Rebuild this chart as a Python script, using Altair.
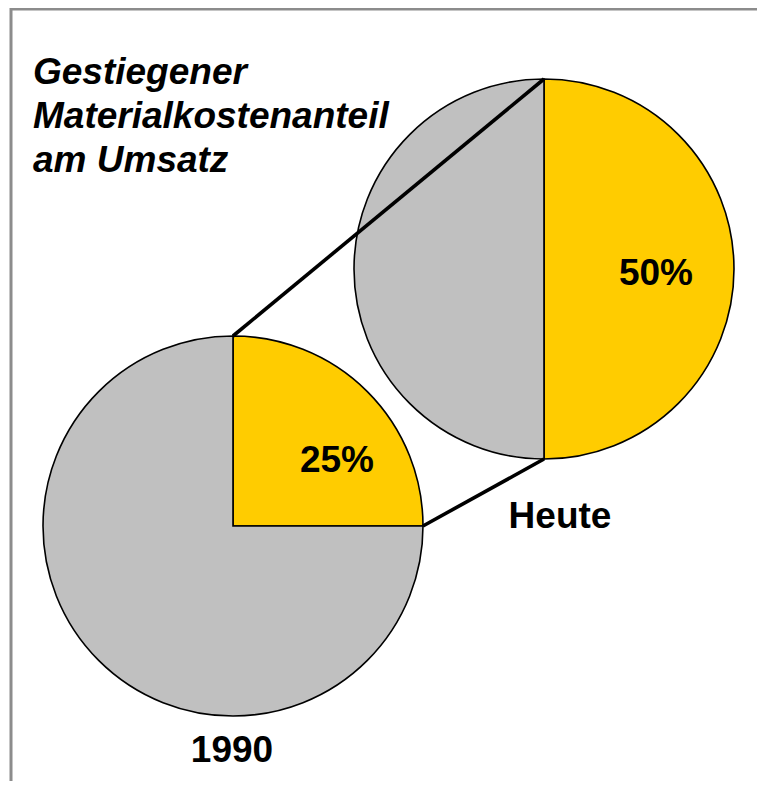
import altair as alt
import pandas as pd

# ---- data ----
years = ["1990", "Heute"]
material_share = [25, 50]          # Materialkostenanteil am Umsatz in %
categories = ["Materialkosten", "Übrige"]
title_lines = ["Gestiegener", "Materialkostenanteil", "am Umsatz"]

# ---- style / layout ----
YELLOW = "#FFCC00"
GRAY = "#C0C0C0"
FONT = "Liberation Sans"
W, H = 749, 773
R = 190
OFF = 8  # page margin
centers = {"1990": (233 - OFF, 526 - OFF), "Heute": (544 - OFF, 269 - OFF)}
pct_label_pos = {"1990": (337 - OFF, 472 - OFF), "Heute": (656 - OFF, 285 - OFF)}
year_label_pos = {"1990": (232 - OFF, 762 - OFF), "Heute": (560 - OFF, 528 - OFF)}

dummy = alt.Data(values=[{}])
layers = []

# pies
for yr, share in zip(years, material_share):
    df = pd.DataFrame({"category": categories, "value": [share, 100 - share], "order": [0, 1]})
    cx, cy = centers[yr]
    layers.append(
        alt.Chart(df).mark_arc(radius=R, stroke="black", strokeWidth=1.6).encode(
            theta=alt.Theta("value:Q", stack=True),
            color=alt.Color("category:N", scale=alt.Scale(domain=categories, range=[YELLOW, GRAY]), legend=None),
            order=alt.Order("order:Q"),
            x=alt.value(cx),
            y=alt.value(cy),
        )
    )

# connector lines (from pie geometry)
c1x, c1y = centers["1990"]
c2x, c2y = centers["Heute"]
connectors = [((c1x, c1y - R), (c2x, c2y - R)), ((c1x + R, c1y), (c2x, c2y + R))]
for (x1, y1), (x2, y2) in connectors:
    layers.append(
        alt.Chart(dummy).mark_rule(color="black", strokeWidth=3.6).encode(
            x=alt.value(x1), y=alt.value(y1), x2=alt.value(x2), y2=alt.value(y2)
        )
    )

# percentage and year labels
for yr, share in zip(years, material_share):
    px, py = pct_label_pos[yr]
    layers.append(
        alt.Chart(dummy).mark_text(font=FONT, fontSize=37, fontWeight="bold", color="black",
                                   align="center", baseline="alphabetic").encode(
            x=alt.value(px), y=alt.value(py), text=alt.value(f"{share}%")
        )
    )
    lx, ly = year_label_pos[yr]
    layers.append(
        alt.Chart(dummy).mark_text(font=FONT, fontSize=37, fontWeight="bold", color="black",
                                   align="center", baseline="alphabetic").encode(
            x=alt.value(lx), y=alt.value(ly), text=alt.value(yr)
        )
    )

# title
layers.append(
    alt.Chart(dummy).mark_text(font=FONT, fontSize=37, fontWeight="bold", fontStyle="italic",
                               color="black", align="left", baseline="alphabetic",
                               lineBreak="\n", lineHeight=44).encode(
        x=alt.value(33 - OFF), y=alt.value(84 - OFF), text=alt.value("\n".join(title_lines))
    )
)

# frame (left and top)
layers.append(
    alt.Chart(dummy).mark_rule(color="#8C8C8C", strokeWidth=3).encode(
        x=alt.value(11 - OFF), y=alt.value(0), y2=alt.value(H)
    )
)
layers.append(
    alt.Chart(dummy).mark_rule(color="#8C8C8C", strokeWidth=3).encode(
        x=alt.value(11 - OFF), x2=alt.value(W), y=alt.value(1)
    )
)

chart = alt.layer(*layers).resolve_scale(theta="independent").properties(
    width=W, height=H, padding=0, autosize=alt.AutoSizeParams(type="none"), background="white"
).configure_view(stroke=None)

chart.save("out.html", embed_options={"renderer": "svg", "actions": False})
